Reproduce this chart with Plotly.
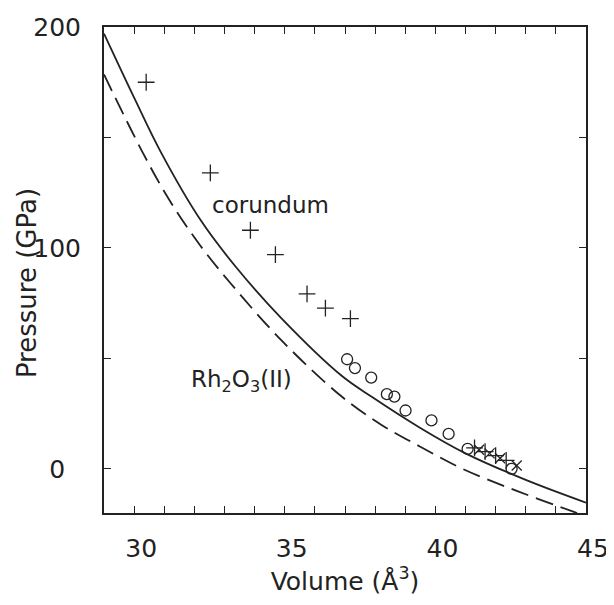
import plotly.graph_objects as go

# ---- data ----
# Equation-of-state curves (Volume in Å^3, Pressure in GPa)
corundum_curve_v = [29.0, 30.0, 30.9, 32.2, 33.4, 34.9, 36.9, 37.9, 39.5, 41.0, 43.0, 45.0]
corundum_curve_p = [197, 168, 143, 112.7, 91, 68, 42, 32.5, 18.5, 7, -5, -15.3]

rh2o3_curve_v = [29.0, 30.3, 31.2, 32.2, 33.2, 34.9, 36.9, 38.2, 39.5, 40.9, 42.7, 44.6, 45.0]
rh2o3_curve_p = [178.5, 142.8, 121, 101, 84, 58, 32.6, 20, 10, 0, -10, -19.5, -21.5]

# experimental points
plus_v = [30.40, 32.53, 33.86, 34.69, 35.74, 36.35, 37.18, 41.30, 41.65, 42.00, 42.35]
plus_p = [175, 134, 108, 97, 79.2, 72.7, 68, 9.5, 7.8, 6.0, 3.8]

circle_v = [37.07, 37.33, 37.87, 38.39, 38.64, 39.01, 39.87, 40.44, 41.07, 42.53]
circle_p = [49.6, 45.6, 41.3, 33.8, 32.7, 26.4, 21.9, 15.8, 9.0, 0]

cross_v = [41.45, 41.80, 42.15, 42.70]
cross_p = [8.6, 7.0, 4.8, 1.5]

x_tickvals = list(range(29, 46))
x_ticktext = [str(v) if v % 5 == 0 else "" for v in x_tickvals]
y_tickvals = [0, 50, 100, 150, 200]
y_ticktext = ["0\u2007", "", "100", "", "200"]

labels = ["corundum", "Rh<sub>2</sub>O<sub>3</sub>(II)"]
label_v = [34.52, 33.56]
label_p = [119.5, 39.8]

INK = "#222222"
FONT = "DejaVu Sans"

fig = go.Figure()
fig.add_trace(go.Scatter(x=corundum_curve_v, y=corundum_curve_p, mode="lines",
                         line=dict(color=INK, width=1.8, shape="spline", smoothing=1.0),
                         showlegend=False))
fig.add_trace(go.Scatter(x=rh2o3_curve_v, y=rh2o3_curve_p, mode="lines",
                         line=dict(color=INK, width=1.8, shape="spline", smoothing=1.0,
                                   dash="18px,8px"),
                         showlegend=False))
fig.add_trace(go.Scatter(x=plus_v, y=plus_p, mode="markers",
                         marker=dict(symbol="cross-thin-open", size=12, color=INK,
                                     line=dict(color=INK, width=1.3)),
                         showlegend=False))
fig.add_trace(go.Scatter(x=cross_v, y=cross_p, mode="markers",
                         marker=dict(symbol="x-thin-open", size=10, color=INK,
                                     line=dict(color=INK, width=1.3)),
                         showlegend=False))
fig.add_trace(go.Scatter(x=circle_v, y=circle_p, mode="markers",
                         marker=dict(symbol="circle-open", size=11, color=INK,
                                     line=dict(color=INK, width=1.3)),
                         showlegend=False))

for t, xv, yv in zip(labels, label_v, label_p):
    fig.add_annotation(x=xv, y=yv, text=t, showarrow=False,
                       font=dict(family=FONT, size=23, color=INK))

# y-axis title placed as a rotated annotation beside the axis
fig.add_annotation(xref="paper", yref="paper", x=0, y=0.473, xanchor="center", yanchor="middle",
                   xshift=-77, text="Pressure (GPa)", textangle=-90, showarrow=False,
                   font=dict(family=FONT, size=26, color=INK))

fig.update_xaxes(range=[29, 45], tickmode="array", tickvals=x_tickvals, ticktext=x_ticktext,
                 ticks="inside", ticklen=7, tickwidth=1.3, tickcolor=INK,
                 showline=True, linecolor=INK, linewidth=2, mirror="ticks",
                 showgrid=False, zeroline=False,
                 tickfont=dict(family=FONT, size=25, color=INK), ticklabelstandoff=12,
                 ticklabelshift=7,
                 title=dict(text="Volume (Å<sup>3</sup>)", font=dict(family=FONT, size=25, color=INK),
                            standoff=2))
fig.update_yaxes(range=[-20, 200], tickmode="array", tickvals=y_tickvals, ticktext=y_ticktext,
                 ticks="inside", ticklen=7, tickwidth=1.3, tickcolor=INK,
                 showline=True, linecolor=INK, linewidth=2, mirror="ticks",
                 showgrid=False, zeroline=False,
                 tickfont=dict(family=FONT, size=25, color=INK), ticklabelstandoff=16)

fig.update_layout(width=606, height=597,
                  margin=dict(l=96, r=28, t=19, b=92, autoexpand=False),
                  paper_bgcolor="white", plot_bgcolor="white",
                  font=dict(family=FONT, color=INK))

fig.write_html("out.html")
